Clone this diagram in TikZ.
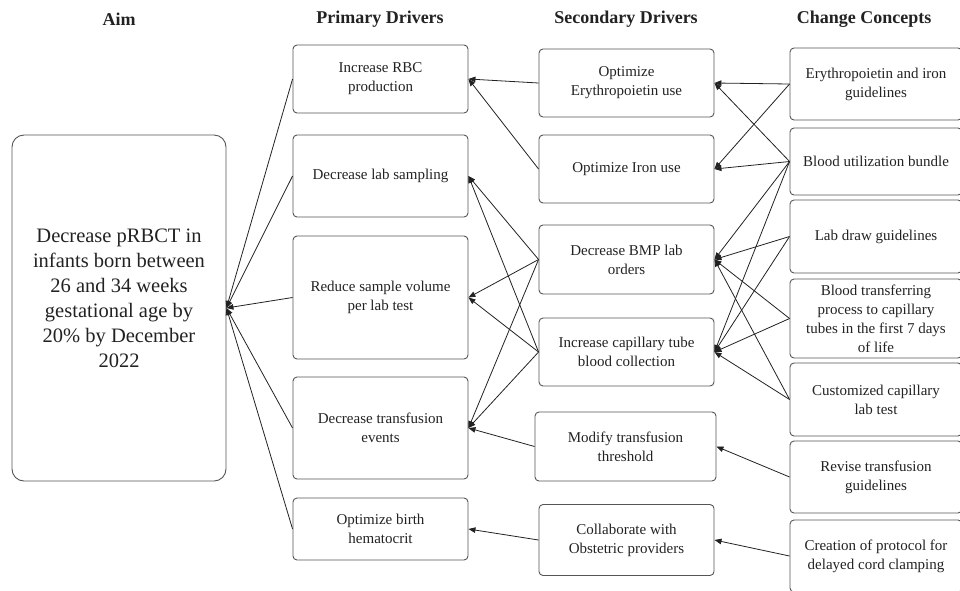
\documentclass[tikz,border=0pt]{standalone}
\usepackage{fontspec}
\setmainfont{Liberation Serif}
\usetikzlibrary{arrows.meta}
\definecolor{cInk}{HTML}{222222}
\definecolor{cEdge}{HTML}{555555}

\begin{document}
\begin{tikzpicture}[
  x=1pt,y=-1pt,
  font=\fontsize{15}{19}\selectfont,
  >={Triangle[length=7pt,width=5.5pt]},
  hdr/.style={font=\fontsize{18}{20}\selectfont\bfseries,text=cInk},
  dbox/.style={draw=cEdge,line width=0.9pt,rounded corners=4pt,align=center,
               text=cInk,inner sep=0pt,minimum width=175pt},
  cbox/.style={dbox,minimum width=172pt},
  aimbox/.style={dbox,rounded corners=12pt,minimum width=214pt,text depth=20pt,
                 font=\fontsize{20.5}{25}\selectfont},
  link/.style={->,line width=0.8pt,cInk}
]
\useasboundingbox (0,0) rectangle (960,590);

% column headings
\node[hdr] (hAim) at (119,19) {Aim};
\node[hdr] (hPri) at (380,19) {Primary Drivers};
\node[hdr] (hSec) at (626,19) {Secondary Drivers};
\node[hdr] (hChg) at (864,19) {Change Concepts};

% aim
\node[aimbox,minimum height=346pt] (aim) at (119,308)
  {Decrease pRBCT in\\infants born between\\26 and 34 weeks\\gestational age by\\20\% by December\\2022};

% primary drivers
\node[dbox,minimum height=68pt]  (p1) at (380.5,79)    {Increase RBC\\production};
\node[dbox,minimum height=82pt]  (p2) at (380.5,176)   {Decrease lab sampling};
\node[dbox,minimum height=123pt] (p3) at (380.5,297.5) {Reduce sample volume\\per lab test};
\node[dbox,minimum height=102pt] (p4) at (380.5,428)   {Decrease transfusion\\events};
\node[dbox,minimum height=62pt]  (p5) at (380.5,529)   {Optimize birth\\hematocrit};

% secondary drivers
\node[dbox,minimum height=68pt] (s1) at (626.5,83)    {Optimize\\Erythropoietin use};
\node[dbox,minimum height=68pt] (s2) at (626.5,169)   {Optimize Iron use};
\node[dbox,minimum height=69pt] (s3) at (626.5,259.5) {Decrease BMP lab\\orders};
\node[dbox,minimum height=68pt] (s4) at (626.5,352)   {Increase capillary tube\\blood collection};
\node[dbox,minimum height=69pt,minimum width=181pt] (s5) at (625.5,446.5) {Modify transfusion\\threshold};
\node[dbox,minimum height=71pt] (s6) at (626.5,540)   {Collaborate with\\Obstetric providers};

% change concepts
\node[cbox,minimum height=72pt] (c1) at (876,84)    {Erythropoietin and iron\\guidelines};
\node[cbox,minimum height=67pt] (c2) at (876,161.5) {Blood utilization bundle};
\node[cbox,minimum height=73pt] (c3) at (876,236.5) {Lab draw guidelines};
\node[cbox,minimum height=79pt] (c4) at (876,318.5) {Blood transferring\\process to capillary\\tubes in the first 7 days\\of life};
\node[cbox,minimum height=73pt] (c5) at (876,399.5) {Customized capillary\\lab test};
\node[cbox,minimum height=72pt] (c6) at (876,477)   {Revise transfusion\\guidelines};
\node[cbox,minimum height=72pt] (c7) at (876,556)   {Creation of protocol for\\delayed cord clamping};

% primary -> aim
\foreach \p in {p1,p2,p3,p4,p5}
  \draw[link] (\p.west) -- (aim.east);

% secondary -> primary
\draw[link] (s1.west) -- (p1.east);
\draw[link] (s2.west) -- (p1.east);
\foreach \s in {s3,s4}
  \foreach \p in {p2,p3,p4}
    \draw[link] (\s.west) -- (\p.east);
\draw[link] (s5.west) -- (p4.east);
\draw[link] (s6.west) -- (p5.east);

% change concepts -> secondary
\draw[link] (c1.west) -- (s1.east);
\draw[link] (c1.west) -- (s2.east);
\foreach \s in {s1,s2,s3,s4}
  \draw[link] (c2.west) -- (\s.east);
\foreach \c in {c3,c4,c5}
  \foreach \s in {s3,s4}
    \draw[link] (\c.west) -- (\s.east);
\draw[link] (c6.west) -- (s5.east);
\draw[link] (c7.west) -- (s6.east);

\end{tikzpicture}
\end{document}
